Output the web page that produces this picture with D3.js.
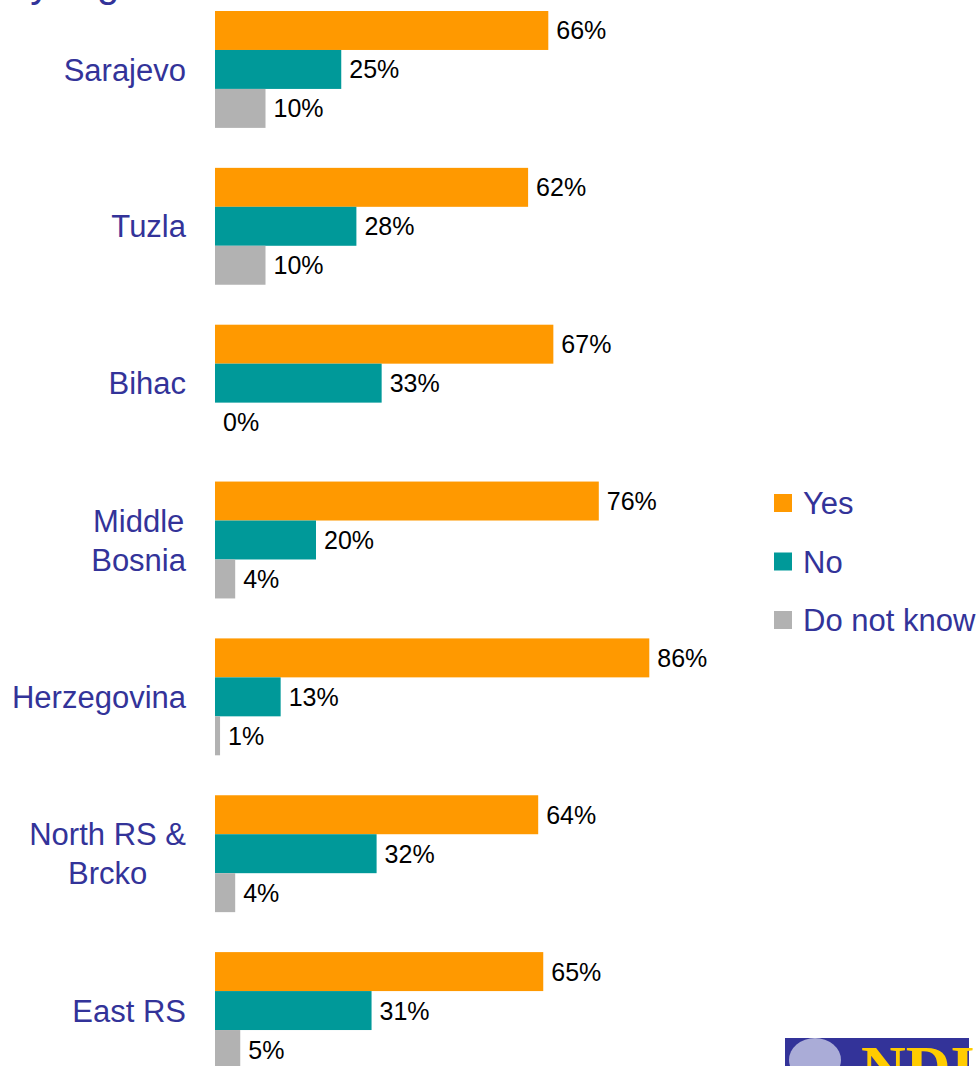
<!DOCTYPE html>
<html>
<head>
<meta charset="utf-8">
<script src="https://cdn.jsdelivr.net/npm/d3@7"></script>
<style>
  body { margin: 0; background: #fff; }
  svg { display: block; font-family: Arial, "Liberation Sans", sans-serif; }
</style>
</head>
<body>
<div id="chart"></div>
<script>
// regions, top to bottom
const regions = ["Sarajevo", "Tuzla", "Bihac", "Middle Bosnia", "Herzegovina", "North RS & Brcko", "East RS"];
// label lines as they are broken in the picture
const regionLines = [["Sarajevo"], ["Tuzla"], ["Bihac"], ["Middle", "Bosnia"], ["Herzegovina"], ["North RS &", "Brcko"], ["East RS"]];
const series = ["Yes", "No", "Do not know"];
const yesVals = [66, 62, 67, 76, 86, 64, 65];
const noVals = [25, 28, 33, 20, 13, 32, 31];
const dkVals = [10, 10, 0, 4, 1, 4, 5];
const colors = ["#FF9900", "#009999", "#B2B2B2"];

const W = 980, H = 1066;
const labelColor = "#333399";

const svg = d3.select("#chart").append("svg")
    .attr("width", W)
    .attr("height", H);

// title, cut off at the top of the picture
svg.append("text")
    .attr("x", 8)
    .attr("y", -3)
    .attr("fill", labelColor)
    .attr("font-size", 40)
    .text("by region");

const y = d3.scaleBand()
    .domain(regions)
    .range([11, 1069])
    .paddingInner(40 / 157)
    .paddingOuter(0);

const yInner = d3.scaleBand()
    .domain(series)
    .range([0, y.bandwidth()])
    .padding(0);

const x = d3.scaleLinear()
    .domain([0, 100])
    .range([215, 720]);

const rows = regions.map((r, i) => ({
    region: r,
    lines: regionLines[i],
    values: [yesVals[i], noVals[i], dkVals[i]]
}));

const groups = svg.selectAll("g.region")
    .data(rows)
    .enter().append("g")
    .attr("class", "region")
    .attr("transform", d => "translate(0," + y(d.region) + ")");

groups.selectAll("rect")
    .data(d => d.values.map((v, k) => ({ v: v, s: series[k], k: k })))
    .enter().append("rect")
    .attr("x", x(0))
    .attr("y", d => yInner(d.s))
    .attr("width", d => x(d.v) - x(0))
    .attr("height", yInner.bandwidth())
    .attr("fill", d => colors[d.k]);

groups.selectAll("text.val")
    .data(d => d.values.map((v, k) => ({ v: v, s: series[k] })))
    .enter().append("text")
    .attr("class", "val")
    .attr("x", d => x(d.v) + 8)
    .attr("y", d => yInner(d.s) + yInner.bandwidth() / 2)
    .attr("dy", "0.36em")
    .attr("font-size", 25)
    .attr("fill", "#000")
    .text(d => d.v + "%");

// category labels: block right-aligned, lines centred on each other
groups.each(function(d) {
    const g = d3.select(this);
    const t = g.append("text")
        .attr("fill", labelColor)
        .attr("font-size", 31);
    const n = d.lines.length;
    const lh = 39;
    d.lines.forEach((ln, j) => {
        t.append("tspan")
            .attr("y", y.bandwidth() / 2 + (j - (n - 1) / 2) * lh)
            .attr("dy", "0.36em")
            .text(ln);
    });
    const right = 186;
    let maxW = 0;
    t.selectAll("tspan").each(function() {
        maxW = Math.max(maxW, this.getComputedTextLength());
    });
    t.attr("text-anchor", "middle");
    t.selectAll("tspan").attr("x", right - maxW / 2);
});

// legend
const legend = svg.append("g")
    .attr("transform", "translate(774,503)");

series.forEach((s, k) => {
    const lg = legend.append("g")
        .attr("transform", "translate(0," + (k * 58.5) + ")");
    lg.append("rect")
        .attr("x", 0)
        .attr("y", -9)
        .attr("width", 18)
        .attr("height", 18)
        .attr("fill", colors[k]);
    lg.append("text")
        .attr("x", 29)
        .attr("y", 0)
        .attr("dy", "0.36em")
        .attr("font-size", 31)
        .attr("fill", labelColor)
        .text(s);
});

// NDI logo, cut off at the bottom
const logo = svg.append("g").attr("transform", "translate(785,1038)");
logo.append("rect")
    .attr("width", 184)
    .attr("height", 40)
    .attr("fill", "#333399");
logo.append("ellipse")
    .attr("cx", 30)
    .attr("cy", 22)
    .attr("rx", 26)
    .attr("ry", 22)
    .attr("fill", "#c8cbe6")
    .attr("opacity", 0.8);
logo.append("text")
    .attr("x", 76)
    .attr("y", 50)
    .attr("font-family", "'Liberation Serif', 'DejaVu Serif', serif")
    .attr("font-weight", "bold")
    .attr("font-size", 62)
    .attr("fill", "#FFCC00")
    .text("NDI");
</script>
</body>
</html>
